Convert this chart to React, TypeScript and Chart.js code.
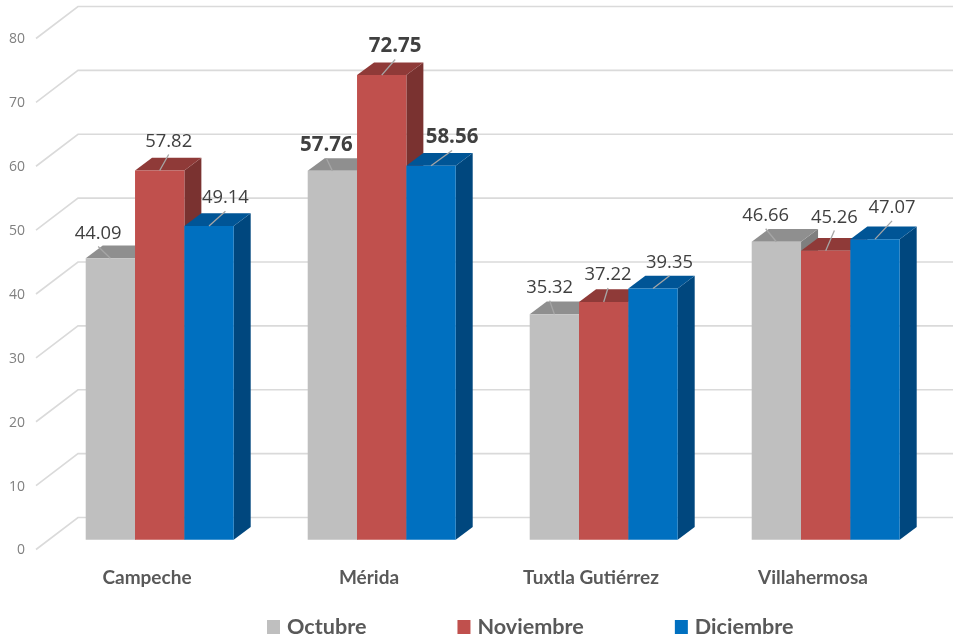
import React, { useEffect, useRef } from "react";
import { Chart, registerables } from "chart.js";

Chart.register(...registerables);

const categories = ["Campeche", "Mérida", "Tuxtla Gutiérrez", "Villahermosa"];
const octubre = [44.09, 57.76, 35.32, 46.66];
const noviembre = [57.82, 72.75, 37.22, 45.26];
const diciembre = [49.14, 58.56, 39.35, 47.07];
const seriesNames = ["Octubre", "Noviembre", "Diciembre"];
const yTicksMax = 80;

// Presentation only
const front = ["#BFBFBF", "#C0504D", "#0070C0"];
const topFace = ["#8F8F8F", "#8F3A38", "#005596"];
const sideFace = ["#7F7F7F", "#7A3230", "#00477E"];
const boldCategory = 1;
const labelShift: [number, number][][] = [
  [[-12.2, -25.6], [-6, -26.7], [-4.7, -27.6], [-10.7, -27]],
  [[9, -30], [13.5, -29.6], [4.3, -28], [8.7, -34.3]],
  [[16.4, -28.7], [21, -29.3], [16.5, -26.7], [17, -32.3]],
];
const WALL_X = 78;
const FLOOR_X = 36;
const FLOOR_DY = 32;
const DEPTH_X = 17;
const DEPTH_Y = 12.7;
const SHIFT_X = -8.3;
const SHIFT_Y = 22.3;
const TEXT_NUDGE = 1;
const FONT = "Lato, 'Open Sans', sans-serif";
const VALUE_FONT = "'Open Sans', sans-serif";

const scene3d = {
  id: "scene3d",
  beforeDatasetsDraw(chart: any) {
    const { ctx, scales } = chart;
    const y = scales.y;
    ctx.save();
    ctx.strokeStyle = "#DADADA";
    ctx.lineWidth = 1.6;
    y.ticks.forEach((_: any, i: number) => {
      const py = y.getPixelForTick(i);
      ctx.beginPath();
      ctx.moveTo(FLOOR_X, py + FLOOR_DY);
      ctx.lineTo(WALL_X, py);
      ctx.lineTo(chart.width, py);
      ctx.stroke();
    });
    ctx.restore();

    ctx.save();
    ctx.translate(SHIFT_X, SHIFT_Y);
    chart.data.datasets.forEach((_: any, d: number) => {
      const meta = chart.getDatasetMeta(d);
      meta.data.forEach((bar: any) => {
        const { x, y: top, base, width } = bar.getProps(["x", "y", "base", "width"], true);
        const l = x - width / 2;
        const r = x + width / 2;
        ctx.fillStyle = sideFace[d];
        ctx.beginPath();
        ctx.moveTo(r, top);
        ctx.lineTo(r + DEPTH_X, top - DEPTH_Y);
        ctx.lineTo(r + DEPTH_X, base - DEPTH_Y);
        ctx.lineTo(r, base);
        ctx.closePath();
        ctx.fill();
        ctx.fillStyle = topFace[d];
        ctx.beginPath();
        ctx.moveTo(l, top);
        ctx.lineTo(l + DEPTH_X, top - DEPTH_Y);
        ctx.lineTo(r + DEPTH_X, top - DEPTH_Y);
        ctx.lineTo(r, top);
        ctx.closePath();
        ctx.fill();
      });
      meta.controller.draw();
    });
    ctx.restore();
    return false;
  },
  afterDraw(chart: any) {
    const { ctx } = chart;
    ctx.save();
    ctx.translate(SHIFT_X, SHIFT_Y);
    chart.data.datasets.forEach((ds: any, d: number) => {
      chart.getDatasetMeta(d).data.forEach((bar: any, i: number) => {
        const { x, y: top } = bar.getProps(["x", "y"], true);
        const [sx, sy] = labelShift[d][i];
        const bold = i === boldCategory;
        ctx.strokeStyle = "#A6A6A6";
        ctx.lineWidth = 1.3;
        ctx.beginPath();
        ctx.moveTo(x + sx, top + sy + 14);
        ctx.lineTo(x, top);
        ctx.stroke();
        ctx.fillStyle = "#404040";
        ctx.font = `${bold ? "bold 20.5px" : "18.4px"} ${VALUE_FONT}`;
        ctx.textAlign = "center";
        ctx.textBaseline = "middle";
        ctx.fillText(ds.data[i].toFixed(2), x + sx, top + sy + TEXT_NUDGE);
      });
    });
    ctx.restore();

    // Legend
    ctx.save();
    ctx.font = `bold 21.6px ${FONT}`;
    ctx.textBaseline = "middle";
    ctx.textAlign = "left";
    let cx = 267;
    chart.data.datasets.forEach((ds: any, d: number) => {
      ctx.fillStyle = front[d];
      ctx.fillRect(cx, 620, 13, 14);
      ctx.fillStyle = "#595959";
      ctx.fillText(ds.label, cx + 20, 627.5);
      cx += 20 + ctx.measureText(ds.label).width + 91;
    });
    ctx.restore();
  },
};

const zeroPadding = (s: any) => {
  s.paddingTop = 0;
  s.paddingBottom = 0;
  s.paddingLeft = 0;
  s.paddingRight = 0;
};

export default function App() {
  const ref = useRef<HTMLCanvasElement>(null);
  useEffect(() => {
    const chart = new Chart(ref.current as HTMLCanvasElement, {
      type: "bar",
      data: {
        labels: categories,
        datasets: [octubre, noviembre, diciembre].map((data, d) => ({
          label: seriesNames[d],
          data,
          backgroundColor: front[d],
          borderWidth: 0,
          categoryPercentage: 2 / 3,
          barPercentage: 1,
        })),
      },
      options: {
        responsive: false,
        animation: false,
        layout: { padding: { top: 6.5, right: 8, left: 0, bottom: 0 } },
        plugins: { legend: { display: false }, tooltip: { enabled: false } },
        scales: {
          x: {
            border: { display: false },
            grid: { display: false, drawTicks: false },
            afterFit: (s: any) => {
              s.height = 120.5;
              zeroPadding(s);
            },
            ticks: {
              autoSkip: false,
              maxRotation: 0,
              minRotation: 0,
              padding: 49,
              labelOffset: -21,
              color: "#595959",
              font: { family: FONT, size: 19, weight: "bold" },
            },
          },
          y: {
            min: 0,
            max: yTicksMax,
            border: { display: false },
            grid: { display: false, drawTicks: false },
            afterFit: (s: any) => {
              s.width = 57;
              zeroPadding(s);
            },
            ticks: {
              stepSize: 10,
              padding: 32,
              labelOffset: 33,
              color: "#808080",
              font: { family: VALUE_FONT, size: 14 },
            },
          },
        },
      },
      plugins: [scene3d],
    } as any);
    return () => chart.destroy();
  }, []);
  return (
    <div style={{ position: "fixed", left: 0, top: 0, width: 953, height: 638, background: "#fff" }}>
      <canvas ref={ref} width={953} height={638} style={{ display: "block" }} />
    </div>
  );
}
